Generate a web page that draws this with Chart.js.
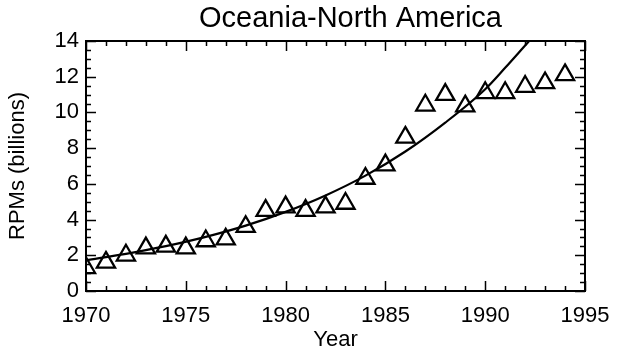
<!DOCTYPE html>
<html>
<head>
<meta charset="utf-8">
<title>Oceania-North America</title>
<script src="https://cdn.jsdelivr.net/npm/chart.js@4/dist/chart.umd.min.js"></script>
<style>
  html, body { margin: 0; padding: 0; background: #fff; }
  canvas { display: block; }
</style>
</head>
<body>
<canvas id="chart" width="630" height="353"></canvas>
<script>
'use strict';

// ── Data ───────────────────────────────────────────────────────────────────

var YEARS = [1970, 1971, 1972, 1973, 1974, 1975, 1976, 1977, 1978, 1979,
             1980, 1981, 1982, 1983, 1984, 1985, 1986, 1987, 1988, 1989,
             1990, 1991, 1992, 1993, 1994];

var RPMS = [1.3, 1.6, 2.0, 2.4, 2.5, 2.4, 2.8, 2.9, 3.6, 4.5,
            4.7, 4.5, 4.7, 4.9, 6.3, 7.05, 8.6, 10.4, 11.0, 10.35,
            11.1, 11.1, 11.45, 11.65, 12.1];

// fitted curve (leaves the top of the frame ~1992.2)
var FIT_YEARS = [1970, 1972, 1974, 1976, 1978, 1980, 1982, 1984,
                 1986, 1988, 1990, 1991, 1992, 1992.2];
var FIT_RPMS  = [1.72, 2.08, 2.51, 3.03, 3.66, 4.43, 5.35, 6.46,
                 7.81, 9.43, 11.3, 12.5, 13.75, 14.0];

var X_TICKS = [1970, 1975, 1980, 1985, 1990, 1995];
var Y_TICKS = [0, 2, 4, 6, 8, 10, 12, 14];

var TITLE = 'Oceania-North America';
var FONT  = "'Liberation Sans', Arial, Helvetica, sans-serif";

// ── Frame with inward ticks on all four sides (IDL style) ─────────────────

var boxTicks = {
  id: 'boxTicks',
  afterDatasetsDraw: function (chart) {
    var ctx = chart.ctx;
    var a = chart.chartArea;
    var xs = chart.scales.x, ys = chart.scales.y;
    var MAJOR = 10, MINOR = 5;
    var v, px;

    ctx.save();
    ctx.strokeStyle = '#000';
    ctx.lineWidth = 1.5;
    ctx.beginPath();
    for (v = 1970; v <= 1995; v += 1) {
      px = Math.round(xs.getPixelForValue(v)) + 0.5;
      var lx = (v % 5 === 0) ? MAJOR : MINOR;
      ctx.moveTo(px, a.bottom); ctx.lineTo(px, a.bottom - lx);
      ctx.moveTo(px, a.top);    ctx.lineTo(px, a.top + lx);
    }
    for (v = 0; v <= 14; v += 0.5) {
      px = Math.round(ys.getPixelForValue(v)) + 0.5;
      var ly = (v % 2 === 0) ? MAJOR : MINOR;
      ctx.moveTo(a.left, px);  ctx.lineTo(a.left + ly, px);
      ctx.moveTo(a.right, px); ctx.lineTo(a.right - ly, px);
    }
    ctx.stroke();

    ctx.lineWidth = 2;
    ctx.strokeRect(a.left, a.top, a.right - a.left, a.bottom - a.top);
    ctx.restore();
  }
};

// title sits a little right of the plot centre in the original
var plotTitle = {
  id: 'plotTitle',
  afterDraw: function (chart) {
    var ctx = chart.ctx;
    var a = chart.chartArea;
    ctx.save();
    ctx.fillStyle = '#000';
    ctx.font = '29px ' + FONT;
    ctx.textAlign = 'center';
    ctx.textBaseline = 'alphabetic';
    ctx.fillText(TITLE, (a.left + a.right) / 2 + 15, 27);
    ctx.restore();
  }
};

// ── Chart ──────────────────────────────────────────────────────────────────

function pts(xs, ys) {
  return xs.map(function (x, i) { return { x: x, y: ys[i] }; });
}

new Chart(document.getElementById('chart'), {
  type: 'scatter',
  data: {
    datasets: [
      {
        label: 'Fit',
        type: 'line',
        data: pts(FIT_YEARS, FIT_RPMS),
        borderColor: '#000',
        borderWidth: 2.2,
        pointRadius: 0,
        fill: false,
        cubicInterpolationMode: 'monotone',
      },
      {
        label: 'RPMs',
        data: pts(YEARS, RPMS),
        pointStyle: 'triangle',
        pointRadius: 10.5,
        pointBorderWidth: 2.3,
        borderColor: '#000',
        backgroundColor: 'rgba(0,0,0,0)',
      },
    ],
  },
  options: {
    responsive: false,
    animation: false,
    layout: { padding: { left: 0, right: 45, top: 41, bottom: 0 } },
    plugins: {
      legend: { display: false },
      tooltip: { enabled: false },
      title: { display: false },
    },
    scales: {
      x: {
        type: 'linear',
        min: 1970,
        max: 1995,
        afterBuildTicks: function (s) { s.ticks = X_TICKS.map(function (v) { return { value: v }; }); },
        afterFit: function (s) { s.height = 62; },
        grid: { display: false, drawTicks: false },
        border: { display: false },
        ticks: {
          color: '#000',
          padding: 12,
          maxRotation: 0,
          font: { family: FONT, size: 22 },
          callback: function (v) { return String(v); },
        },
        title: {
          display: true,
          text: 'Year',
          color: '#000',
          font: { family: FONT, size: 22 },
          padding: { top: 0, bottom: 0 },
        },
      },
      y: {
        min: 0,
        max: 14,
        afterBuildTicks: function (s) { s.ticks = Y_TICKS.map(function (v) { return { value: v }; }); },
        afterFit: function (s) { s.width = 86; },
        grid: { display: false, drawTicks: false },
        border: { display: false },
        ticks: {
          color: '#000',
          padding: 7,
          font: { family: FONT, size: 22 },
          callback: function (v) { return String(v); },
        },
        title: {
          display: true,
          text: 'RPMs (billions)',
          color: '#000',
          font: { family: FONT, size: 22 },
          padding: { top: 5, bottom: 0 },
        },
      },
    },
  },
  plugins: [boxTicks, plotTitle],
});
</script>
</body>
</html>
